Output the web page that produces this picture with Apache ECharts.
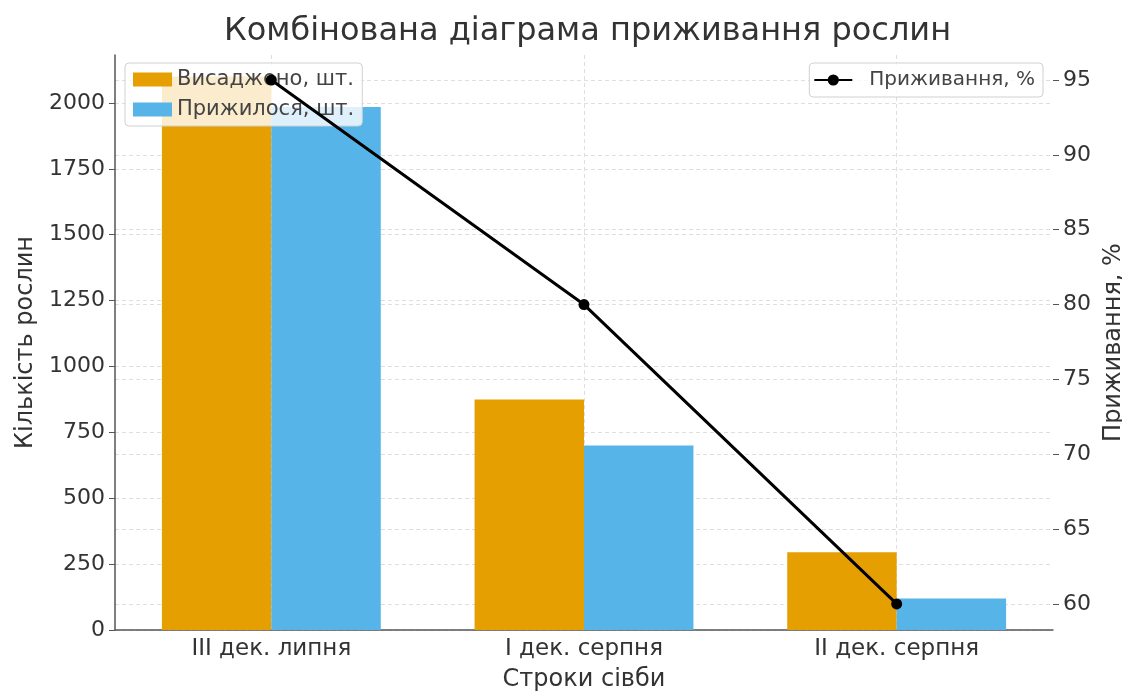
<!DOCTYPE html>
<html>
<head>
<meta charset="utf-8">
<script src="https://cdn.jsdelivr.net/npm/echarts@6/dist/echarts.min.js"></script>
<style>
  html, body { margin: 0; padding: 0; background: #fff; }
  #chart { width: 1122px; height: 691px; }
</style>
</head>
<body>
<div id="chart"></div>
<script>
// Sowing dates and plant counts
const categories = ['III дек. липня', 'I дек. серпня', 'II дек. серпня'];
const planted = [2100, 875, 295];      // Висаджено, шт.
const survived = [1985, 700, 120];     // Прижилося, шт.
const survivalRate = [95, 80, 60];     // Приживання, %
const countTicks = [0, 250, 500, 750, 1000, 1250, 1500, 1750, 2000];
const rateTicks = [60, 65, 70, 75, 80, 85, 90, 95];

const FONT = 'DejaVu Sans';
const TXT = '#333';
const GRID = { color: '#dedede', type: [4, 3], width: 1 };
const plain = v => String(v);

const chart = echarts.init(document.getElementById('chart'), null, { renderer: 'canvas' });

chart.setOption({
  animation: false,
  textStyle: { fontFamily: FONT },
  title: {
    text: 'Комбінована діаграма приживання рослин',
    left: 219,
    top: 11,
    textStyle: { fontFamily: FONT, fontSize: 32, fontWeight: 'normal', color: TXT }
  },
  grid: { left: 115, right: 69, top: 55, bottom: 61, containLabel: false, outerBoundsMode: 'none' },
  legend: [
    {
      data: ['Висаджено, шт.', 'Прижилося, шт.'],
      orient: 'vertical',
      left: 125, top: 63,
      icon: 'rect',
      itemWidth: 39, itemHeight: 14, itemGap: 9,
      padding: [6, 8, 6, 8],
      backgroundColor: 'rgba(255,255,255,0.8)',
      borderColor: '#d0d0d0', borderWidth: 1, borderRadius: 4,
      textStyle: { fontFamily: FONT, fontSize: 21, color: '#444' },
      z: 3
    },
    {
      data: ['Приживання, %'],
      right: 79, top: 63,
      itemWidth: 38, itemHeight: 14,
      padding: [7, 8, 7, 4],
      backgroundColor: 'rgba(255,255,255,0.8)',
      borderColor: '#d0d0d0', borderWidth: 1, borderRadius: 4,
      textStyle: { fontFamily: FONT, fontSize: 20, color: '#444', padding: [0, 0, 0, 12] },
      z: 6
    }
  ],
  xAxis: {
    type: 'category',
    data: categories,
    boundaryGap: true,
    name: 'Строки сівби',
    nameLocation: 'middle',
    nameGap: 38,
    nameTextStyle: { fontFamily: FONT, fontSize: 24, color: TXT },
    axisLine: { lineStyle: { color: '#555', width: 1.5 } },
    axisTick: { alignWithLabel: true, length: 5, lineStyle: { color: '#555' } },
    axisLabel: { fontFamily: FONT, fontSize: 23, color: TXT, margin: 8 },
    splitLine: { show: true, alignWithLabel: true, lineStyle: GRID }
  },
  yAxis: [
    {
      type: 'value',
      min: 0,
      max: 2182,
      name: 'Кількість рослин',
      nameLocation: 'middle',
      nameRotate: 90,
      nameGap: 76,
      nameTextStyle: { fontFamily: FONT, fontSize: 24, color: TXT },
      axisLine: { show: true, lineStyle: { color: '#555', width: 1.5 } },
      axisTick: { show: true, length: 6, customValues: countTicks, lineStyle: { color: '#555' } },
      axisLabel: { fontFamily: FONT, fontSize: 22, color: TXT, margin: 10, customValues: countTicks, formatter: plain },
      splitLine: { show: true, lineStyle: GRID }
    },
    {
      type: 'value',
      min: 58.26,
      max: 96.67,
      position: 'right',
      name: 'Приживання, %',
      nameLocation: 'middle',
      nameRotate: 90,
      nameGap: 42,
      nameTextStyle: { fontFamily: FONT, fontSize: 24, color: TXT },
      axisLine: { show: false },
      axisTick: { show: true, length: 6, customValues: rateTicks, lineStyle: { color: '#555' } },
      axisLabel: { fontFamily: FONT, fontSize: 22, color: TXT, margin: 10, customValues: rateTicks, formatter: plain },
      splitLine: { show: true, lineStyle: GRID }
    }
  ],
  series: [
    {
      name: 'Висаджено, шт.',
      type: 'bar',
      yAxisIndex: 0,
      data: planted,
      barGap: '0%',
      barCategoryGap: '30%',
      itemStyle: { color: '#E69F00' },
      z: 1
    },
    {
      name: 'Прижилося, шт.',
      type: 'bar',
      yAxisIndex: 0,
      data: survived,
      barGap: '0%',
      barCategoryGap: '30%',
      itemStyle: { color: '#56B4E9' },
      z: 1
    },
    {
      name: 'Приживання, %',
      type: 'line',
      yAxisIndex: 1,
      data: survivalRate,
      symbol: 'circle',
      symbolSize: 11,
      lineStyle: { color: '#000', width: 3 },
      itemStyle: { color: '#000' },
      z: 5
    }
  ]
});
</script>
</body>
</html>
